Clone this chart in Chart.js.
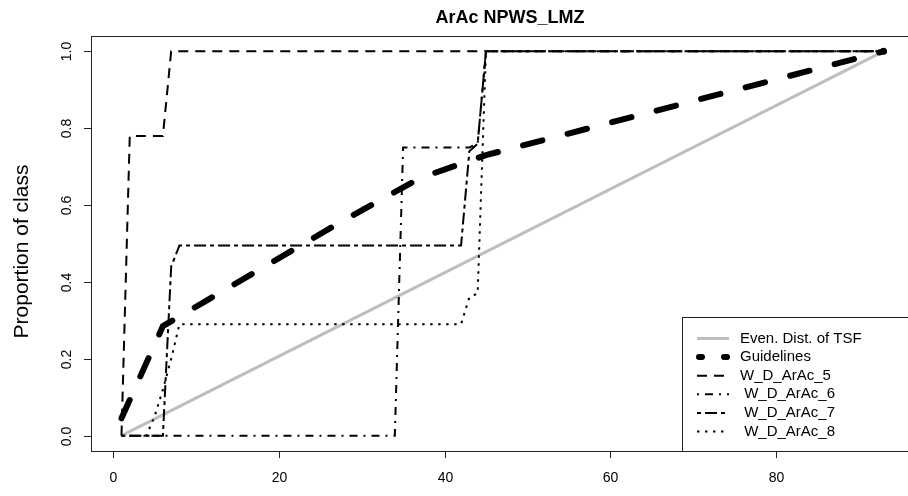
<!DOCTYPE html>
<html>
<head>
<meta charset="utf-8">
<script src="https://cdn.jsdelivr.net/npm/chart.js@4"></script>
<style>
  html, body { margin: 0; padding: 0; overflow: hidden; background: #fff; }
  #wrap { width: 920px; height: 496px; }
</style>
</head>
<body>
<div id="wrap"><canvas id="chart-area"></canvas></div>
<script>
// tick labels
const xTicks = [0, 20, 40, 60, 80];
const yTicks = [0, 0.2, 0.4, 0.6, 0.8, 1.0];
const yTickLabels = ['0.0', '0.2', '0.4', '0.6', '0.8', '1.0'];

// series (x = TSF, y = proportion of class)
const labels = ['Even. Dist. of TSF', 'Guidelines', 'W_D_ArAc_5', ' W_D_ArAc_6', ' W_D_ArAc_7', ' W_D_ArAc_8'];
const evenX = [1, 93];
const evenY = [0, 1];
const guideX = [1, 6, 27, 37, 45, 93];
const guideY = [0.045, 0.285, 0.55, 0.67, 0.73, 1.0];
const s5X = [1, 2, 6, 7, 93];
const s5Y = [0, 0.78, 0.78, 1, 1];
const s6X = [1, 34, 35, 43, 44, 45, 93];
const s6Y = [0, 0, 0.75, 0.75, 0.76, 1, 1];
const s7X = [1, 6, 7, 8, 42, 43, 44, 45, 93];
const s7Y = [0, 0, 0.44, 0.495, 0.495, 0.74, 0.76, 1, 1];
const s8X = [1, 4, 5, 6, 7, 8, 42, 43, 44, 45, 93];
const s8Y = [0, 0, 0.05, 0.12, 0.2, 0.29, 0.29, 0.36, 0.37, 1, 1];

function pts(xs, ys) {
    return xs.map(function (x, i) { return {x: x, y: ys[i]}; });
}

function line(label, xs, ys, color, width, dash, order, cap) {
    return {
        label: label,
        data: pts(xs, ys),
        borderColor: color,
        backgroundColor: color,
        borderWidth: width,
        borderDash: dash,
        borderCapStyle: cap || 'butt',
        pointRadius: 0,
        fill: false,
        tension: 0,
        order: order
    };
}

const guide = line(labels[1], guideX, guideY, '#000', 6, [20, 26], 5, 'round');
guide.pointRadius = guideX.map(function (x, i) { return i === guideX.length - 1 ? 3.5 : 0; });
guide.pointBorderWidth = 0;

const datasets = [
    line(labels[0], evenX, evenY, '#bebebe', 3, [], 6),
    guide,
    line(labels[2], s5X, s5Y, '#000', 2, [10, 7], 4),
    line(labels[3], s6X, s6Y, '#000', 2, [2, 6, 8, 6], 3),
    line(labels[4], s7X, s7Y, '#000', 2, [4, 4, 12, 4], 2),
    line(labels[5], s8X, s8Y, '#000', 2, [2.5, 5.5], 1)
];

const FONT = '"Liberation Sans", Arial, sans-serif';

const rPlot = {
    id: 'rPlot',
    afterDraw: function (chart) {
        const ctx = chart.ctx;
        const a = chart.chartArea;
        const xs = chart.scales.x, ys = chart.scales.y;
        ctx.save();
        ctx.strokeStyle = '#222';
        ctx.lineWidth = 1;
        ctx.setLineDash([]);
        ctx.strokeRect(Math.round(a.left) + 0.5, Math.round(a.top) + 0.5,
            Math.round(a.right - a.left), Math.round(a.bottom - a.top));

        // x axis
        ctx.fillStyle = '#000';
        ctx.font = '14px ' + FONT;
        ctx.textAlign = 'center';
        ctx.textBaseline = 'middle';
        xTicks.forEach(function (v) {
            const px = Math.round(xs.getPixelForValue(v)) + 0.5;
            ctx.beginPath();
            ctx.moveTo(px, a.bottom);
            ctx.lineTo(px, a.bottom + 7);
            ctx.stroke();
            ctx.fillText(String(v), px, 478);
        });

        // y axis
        yTicks.forEach(function (v, i) {
            const py = Math.round(ys.getPixelForValue(v)) + 0.5;
            ctx.beginPath();
            ctx.moveTo(a.left, py);
            ctx.lineTo(a.left - 7, py);
            ctx.stroke();
            ctx.save();
            ctx.translate(67, py);
            ctx.rotate(-Math.PI / 2);
            ctx.fillText(yTickLabels[i], 0, 0);
            ctx.restore();
        });

        // titles
        ctx.font = 'bold 18px ' + FONT;
        ctx.fillText('ArAc NPWS_LMZ', 510, 18);
        ctx.save();
        ctx.font = '21px ' + FONT;
        ctx.translate(22, (a.top + a.bottom) / 2 + 8);
        ctx.rotate(-Math.PI / 2);
        ctx.fillText('Proportion of class', 0, 0);
        ctx.restore();

        // legend
        const lx = 682, ly = 317;
        ctx.fillStyle = '#fff';
        ctx.fillRect(lx, ly, 260, a.bottom - ly);
        ctx.strokeStyle = '#222';
        ctx.lineWidth = 1;
        ctx.strokeRect(lx + 0.5, ly + 0.5, 260, Math.round(a.bottom - ly));
        ctx.font = '15px ' + FONT;
        ctx.textAlign = 'left';
        chart.data.datasets.forEach(function (ds, i) {
            const y = 338.5 + i * 18.6;
            ctx.save();
            ctx.strokeStyle = ds.borderColor;
            ctx.lineWidth = ds.borderWidth;
            ctx.lineCap = ds.borderCapStyle;
            ctx.setLineDash(i === 1 ? [3, 22] : ds.borderDash);
            ctx.beginPath();
            ctx.moveTo(i === 1 ? 699 : 697, y);
            ctx.lineTo(729, y);
            ctx.stroke();
            ctx.restore();
            ctx.fillStyle = '#000';
            ctx.fillText(ds.label, 740, y);
        });
        ctx.restore();
    }
};

const config = {
    type: 'line',
    data: {datasets: datasets},
    options: {
        responsive: true,
        maintainAspectRatio: false,
        animation: false,
        layout: {padding: {left: 91, top: 36, right: 6, bottom: 45}},
        scales: {
            x: {type: 'linear', min: -2.68, max: 96.68, display: false},
            y: {type: 'linear', min: -0.04, max: 1.04, display: false}
        },
        plugins: {
            legend: {display: false},
            tooltip: {enabled: false},
            title: {display: false}
        }
    },
    plugins: [rPlot]
};

const canvas = document.getElementById('chart-area').getContext('2d');
const chart = new Chart(canvas, config);
</script>
</body>
</html>
